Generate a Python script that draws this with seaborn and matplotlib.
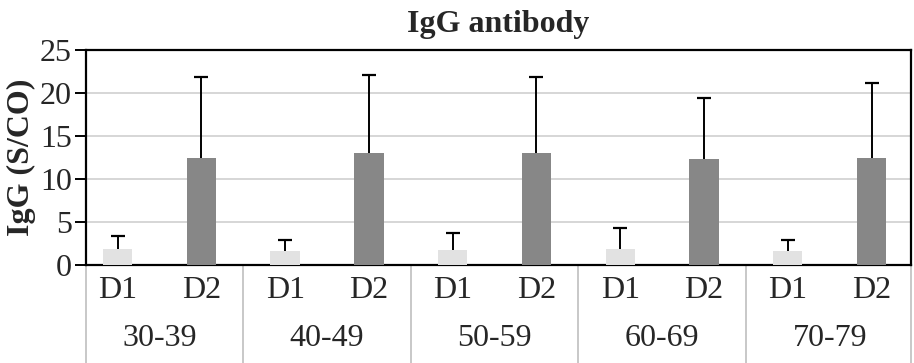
import numpy as np
import pandas as pd
import matplotlib
matplotlib.use("Agg")
import matplotlib.pyplot as plt
import matplotlib.transforms as mtransforms
import seaborn as sns

groups = ["30-39", "40-49", "50-59", "60-69", "70-79"]
doses = ["D1", "D2"]
d1_mean = [1.83, 1.58, 1.70, 1.83, 1.57]
d1_top = [3.37, 2.90, 3.70, 4.27, 2.95]
d2_mean = [12.45, 13.05, 13.02, 12.35, 12.45]
d2_top = [21.85, 22.1, 21.85, 19.4, 21.15]
y_ticks = [0, 5, 10, 15, 20, 25]

sns.set_theme(style="white")
plt.rcParams["font.family"] = ["Liberation Serif", "DejaVu Serif"]

rows = []
for i, g in enumerate(groups):
    rows.append(dict(slot=f"{g} D1", group=g, dose="D1", mean=d1_mean[i], top=d1_top[i]))
    rows.append(dict(slot=f"{g} D2", group=g, dose="D2", mean=d2_mean[i], top=d2_top[i]))
df = pd.DataFrame(rows)
order = list(df["slot"])

fig = plt.figure(figsize=(9.14, 3.63), dpi=100)
ax = fig.add_axes([86 / 914, (363 - 265) / 363, (911 - 86) / 914, (265 - 50) / 363])

sns.barplot(data=df, x="slot", y="mean", hue="dose", order=order, dodge=False,
            palette={"D1": "#e2e2e2", "D2": "#878787"}, width=0.35,
            errorbar=None, legend=False, ax=ax, saturation=1, zorder=3)
for p in ax.patches:
    p.set_edgecolor("none")

xs = np.arange(len(df))
means = df["mean"].to_numpy()
ups = df["top"].to_numpy() - means
eb = ax.errorbar(xs, means, yerr=[np.zeros_like(ups), ups], fmt="none",
                 ecolor="black", elinewidth=1.4, capsize=5, capthick=1.6, zorder=4)
for cl in eb[1]:
    if np.allclose(cl.get_ydata(), means):
        cl.set_visible(False)

ax.set_ylim(0, 25)
ax.set_xlim(-0.376, 9.47)
ax.set_yticks(y_ticks)
ax.set_yticklabels([str(t) for t in y_ticks], fontsize=23)
ax.set_xticks(xs)
ax.set_xticklabels(list(df["dose"]), fontsize=23)
ax.tick_params(axis="x", length=0, pad=8)
ax.tick_params(axis="y", length=8, width=1.4, color="black", pad=2, left=True, direction="out")
ax.yaxis.grid(True, color="#d0d0d0", linewidth=1.2, zorder=0)
ax.set_axisbelow(True)
for s in ax.spines.values():
    s.set_color("black")
    s.set_linewidth(1.6)
ax.set_xlabel("")
ax.set_ylabel("IgG (S/CO)", fontsize=23, fontweight="bold", labelpad=3)
ax.set_title("IgG antibody", fontsize=23, fontweight="bold", pad=13)

trans = mtransforms.blended_transform_factory(ax.transData, ax.transAxes)
for i, g in enumerate(groups):
    ax.text(2 * i + 0.5, -0.34, g, transform=trans, ha="center", va="center",
            fontsize=23, clip_on=False)
for xb in [-0.376, 1.5, 3.5, 5.5, 7.5, 9.47]:
    ax.plot([xb, xb], [0, -0.5], transform=trans, color="#c8c8c8",
            linewidth=1.4, clip_on=False, zorder=1)

fig.savefig("out.png", dpi=100)
